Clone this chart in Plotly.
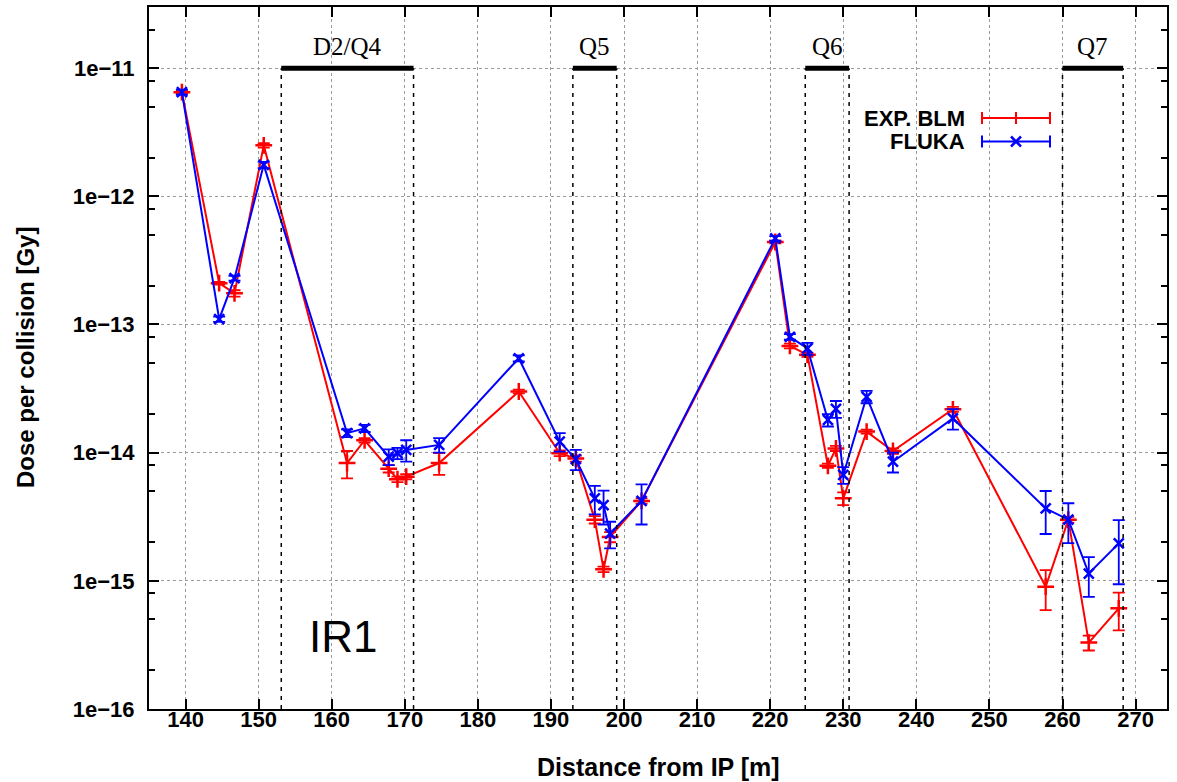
import numpy as np
import plotly.graph_objects as go

# BLM positions along the beam line [m]
pos_m = [139.5, 144.6, 146.7, 150.7, 162.1, 164.5, 167.8, 169.0, 170.2, 174.7,
         185.6, 191.2, 193.4, 196.0, 197.2, 198.1, 202.4, 220.7, 222.7, 225.1,
         227.9, 229.0, 230.0, 233.2, 236.8, 245.0, 257.7, 260.8, 263.6, 267.7]

blm_dose = [6.5e-12, 2.1e-13, 1.75e-13, 2.5e-12, 8.3e-15, 1.25e-14, 7.5e-15, 6.2e-15, 6.5e-15, 8.3e-15,
            3.0e-14, 9.9e-15, 9.0e-15, 3.0e-15, 1.23e-15, 2.2e-15, 4.2e-15, 4.4e-13, 6.8e-14, 5.8e-14,
            7.9e-15, 1.08e-14, 4.4e-15, 1.46e-14, 1.03e-14, 2.18e-14, 9.0e-16, 3.0e-15, 3.3e-16, 6.1e-16]
blm_err = [2e-13, 5e-15, 1e-14, 1e-13, 2e-15, 5e-16, 5e-16, 3e-16, 3e-16, 1.6e-15,
           1e-15, 5e-16, 5e-16, 2e-16, 6e-17, 2e-16, 2e-16, 1e-14, 3e-15, 2e-15,
           3e-16, 5e-16, 5e-16, 5e-16, 5e-16, 1e-15, 3.1e-16, 1.5e-16, 4.4e-17, 2e-16]

fluka_dose = [6.5e-12, 1.1e-13, 2.3e-13, 1.76e-12, 1.42e-14, 1.55e-14, 9.3e-15, 9.9e-15, 1.05e-14, 1.15e-14,
              5.45e-14, 1.22e-14, 8.9e-15, 4.4e-15, 3.9e-15, 2.34e-15, 4.2e-15, 4.7e-13, 8.0e-14, 6.5e-14,
              1.8e-14, 2.2e-14, 6.7e-15, 2.73e-14, 8.5e-15, 1.85e-14, 3.67e-15, 3.0e-15, 1.14e-15, 1.96e-15]
fluka_err = [3e-13, 5e-15, 1e-14, 1e-13, 1e-15, 1e-15, 1.3e-15, 1e-15, 2e-15, 1.5e-15,
             3e-15, 2e-15, 1.6e-15, 1.1e-15, 1.15e-15, 5.5e-16, 1.45e-15, 2e-14, 4e-15, 7e-15,
             2e-15, 3.3e-15, 1e-15, 3e-15, 1.5e-15, 3.4e-15, 1.35e-15, 1.03e-15, 3.9e-16, 1.02e-15]

magnet_names = ["D2/Q4", "Q5", "Q6", "Q7"]
magnet_start = [153.1, 193.0, 224.8, 260.0]
magnet_end = [171.2, 199.0, 230.8, 268.3]
magnet_level = 1e-11

x_ticks = list(range(140, 271, 10))
y_major = [1e-16, 1e-15, 1e-14, 1e-13, 1e-12, 1e-11]
y_labels = ["1e\u221216", "1e\u221215", "1e\u221214", "1e\u221213", "1e\u221212", "1e\u221211"]

X_RANGE = [135, 274.3]
Y_RANGE = [-16, np.log10(3e-11)]

W, H = 1177, 782
L, R, T, B = 149, 1167, 7, 709  # plot area in pixels


def px(xp):
    return (xp - L) / (R - L)


def py(yp):
    return (B - yp) / (B - T)


def note(xp, yp, text, font, **kw):
    fig.add_annotation(x=px(xp), y=py(yp), xref="paper", yref="paper", text=text,
                       showarrow=False, xanchor=kw.pop("xanchor", "center"), yanchor="middle",
                       font=font, **kw)


SANS_B = dict(family="Liberation Sans", size=22, weight="bold", color="black")

fig = go.Figure()

fig.add_trace(go.Scatter(
    x=pos_m, y=blm_dose, mode="lines+markers", name="EXP. BLM",
    line=dict(color="#ff0000", width=2),
    marker=dict(symbol="cross-thin", size=12, line=dict(color="#ff0000", width=2.5)),
    error_y=dict(type="data", array=blm_err, color="#ff0000", thickness=1.8, width=6),
))
fig.add_trace(go.Scatter(
    x=pos_m, y=fluka_dose, mode="lines+markers", name="FLUKA",
    line=dict(color="#0000ff", width=2),
    marker=dict(symbol="x-thin", size=10, line=dict(color="#0000ff", width=2.5)),
    error_y=dict(type="data", array=fluka_err, color="#0000ff", thickness=1.8, width=6),
))

# magnet regions: dashed boundaries and a bar with the name
ydom_bar = (np.log10(magnet_level) - Y_RANGE[0]) / (Y_RANGE[1] - Y_RANGE[0])
for name, x0, x1 in zip(magnet_names, magnet_start, magnet_end):
    for xv in (x0, x1):
        fig.add_shape(type="line", xref="x", yref="y domain", x0=xv, x1=xv, y0=0, y1=ydom_bar,
                      line=dict(color="black", width=1.5, dash="4px,5px"))
    fig.add_shape(type="line", xref="x", yref="y domain", x0=x0, x1=x1, y0=ydom_bar, y1=ydom_bar,
                  line=dict(color="black", width=5))
    fig.add_annotation(x=(x0 + x1) / 2, y=py(46), xref="x", yref="paper", text=name,
                       showarrow=False, xanchor="center", yanchor="middle",
                       font=dict(family="Liberation Serif", size=25, color="black"))

# legend drawn gnuplot-style (text left, sample right)
leg_rows = [("EXP. BLM", "#ff0000", 118, "plus"), ("FLUKA", "#0000ff", 141.5, "cross")]
for label, col, yp, kind in leg_rows:
    note(967, yp, label, SANS_B, xanchor="right")
    x0p, x1p, xm = 982, 1050, 1016
    fig.add_shape(type="line", xref="paper", yref="paper", x0=px(x0p), x1=px(x1p),
                  y0=py(yp), y1=py(yp), line=dict(color=col, width=2))
    for xc in (x0p, x1p):
        fig.add_shape(type="line", xref="paper", yref="paper", x0=px(xc), x1=px(xc),
                      y0=py(yp - 6), y1=py(yp + 6), line=dict(color=col, width=2))
    if kind == "plus":
        fig.add_shape(type="line", xref="paper", yref="paper", x0=px(xm), x1=px(xm),
                      y0=py(yp - 6), y1=py(yp + 6), line=dict(color=col, width=2))
    else:
        for s in (1, -1):
            fig.add_shape(type="line", xref="paper", yref="paper", x0=px(xm - 5), x1=px(xm + 5),
                          y0=py(yp - 5 * s), y1=py(yp + 5 * s), line=dict(color=col, width=2.5))

note(343, 636, "IR1", dict(family="Liberation Sans", size=44, color="black"))

# axis titles
note(658, 767, "Distance from IP [m]", dict(SANS_B, size=25))
note(25, 358, "Dose per collision [Gy]", dict(SANS_B, size=24), textangle=-90)

minor_vals = [m * 10.0 ** e for e in range(-16, -10) for m in (2, 5, 8)] + [2e-11]

fig.update_xaxes(
    range=X_RANGE, tickvals=x_ticks, ticks="inside", ticklen=10, tickwidth=2, tickcolor="black",
    showline=True, linecolor="black", linewidth=2, mirror="ticks",
    showgrid=True, gridcolor="#9a9a9a", griddash="dot", gridwidth=1, zeroline=False,
    tickfont=dict(family="Liberation Sans", size=22, weight="bold", color="black"),
    ticklabelstandoff=-10, automargin=False,
)
fig.update_yaxes(
    type="log", range=Y_RANGE, tickvals=y_major, ticktext=y_labels,
    ticks="inside", ticklen=10, tickwidth=2, tickcolor="black",
    showline=True, linecolor="black", linewidth=2, mirror="ticks",
    showgrid=True, gridcolor="#9a9a9a", griddash="dot", gridwidth=1, zeroline=False,
    minor=dict(tickvals=minor_vals, ticks="inside", ticklen=6, tickwidth=1.5, tickcolor="black", showgrid=False),
    tickfont=dict(family="Liberation Sans", size=22, weight="bold", color="black"),
    ticklabelstandoff=8, automargin=False,
)

fig.update_layout(
    width=W, height=H, showlegend=False,
    paper_bgcolor="white", plot_bgcolor="white",
    margin=dict(l=L, r=W - R, t=T, b=H - B),
)

# drop the browser's default 8px body margin so the figure sits at the page origin
fig.write_html("out.html", config={"displayModeBar": False},
               post_script="document.body.style.margin='0px';")
